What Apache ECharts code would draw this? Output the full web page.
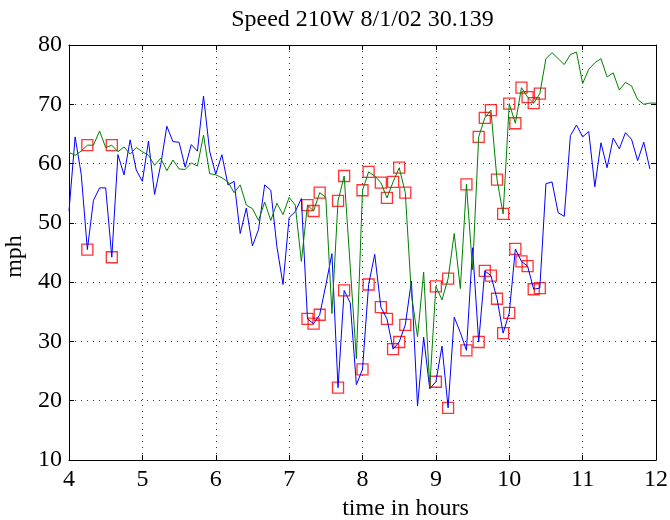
<!DOCTYPE html>
<html>
<head>
<meta charset="utf-8">
<script src="https://cdn.jsdelivr.net/npm/echarts@6/dist/echarts.min.js"></script>
<style>
html,body{margin:0;padding:0;background:#fff;}
#chart{width:670px;height:520px;}
</style>
</head>
<body>
<div id="chart"></div>
<script>
// Sampling: every 5 minutes from 4:00 to 12:00
const startHour = 4;
const stepMinutes = 5;

const xTicks = [4, 5, 6, 7, 8, 9, 10, 11, 12];
const yTicks = [10, 20, 30, 40, 50, 60, 70, 80];

// Blue series (mph)
const blueSpeed = [
  52.0, 64.5, 58.2, 45.5, 53.8, 55.9, 55.9, 44.2, 61.5, 58.1,
  64.0, 58.9, 57.0, 63.8, 54.8, 59.8, 66.3, 63.7, 63.6, 59.4,
  63.2, 62.1, 71.4, 62.1, 58.2, 61.5, 56.4, 57.0, 48.2, 52.5,
  46.1, 48.9, 56.4, 55.5, 46.0, 39.6, 50.9, 51.9, 54.1, 33.8,
  33.0, 34.5, 39.5, 44.8, 22.2, 38.6, 36.5, 22.7, 25.3, 39.6,
  44.7, 35.8, 33.8, 28.7, 29.9, 32.8, 40.2, 19.1, 30.7, 22.0,
  23.2, 29.2, 18.8, 34.1, 31.5, 28.5, 45.8, 29.9, 41.9, 41.1,
  37.2, 31.4, 34.8, 45.6, 43.5, 42.7, 38.8, 39.0, 56.6, 56.9,
  51.7, 51.1, 64.7, 66.5, 64.5, 65.4, 56.1, 63.5, 59.3, 64.3,
  62.5, 65.2, 64.1, 60.5, 63.6, 59.1
];

// Green series (mph)
const greenSpeed = [
  61.9, 61.4, 62.1, 63.1, 63.1, 65.5, 62.7, 63.1, 62.0, 62.8,
  61.6, 62.7, 62.0, 61.4, 59.7, 60.9, 58.8, 60.6, 59.1, 59.0,
  60.1, 59.6, 64.8, 58.3, 58.1, 57.6, 56.9, 55.1, 56.4, 53.0,
  52.4, 50.4, 53.5, 50.4, 53.3, 51.4, 54.3, 53.0, 43.5, 53.0,
  52.0, 55.1, 54.3, 34.7, 53.7, 57.9, 42.5, 27.1, 55.5, 58.6,
  57.9, 56.8, 54.2, 56.9, 59.3, 55.1, 37.9, 30.8, 41.7, 22.3,
  39.3, 37.0, 40.6, 48.2, 38.9, 56.5, 42.1, 64.5, 67.7, 69.0,
  57.3, 51.5, 70.1, 66.8, 72.8, 71.2, 70.2, 71.8, 77.7, 78.7,
  77.7, 76.7, 78.4, 78.8, 73.5, 75.9, 77.0, 77.7, 74.6, 75.3,
  72.4, 73.7, 73.1, 70.8, 70.0, 70.2, 70.2
];

// Sample indices flagged with red squares (both series)
const flaggedIdx = [3, 7, 39, 40, 41, 44, 45, 48, 49, 51, 52, 53, 54, 55,
  60, 62, 65, 67, 68, 69, 70, 71, 72, 73, 74, 75, 76, 77];

const titleText = 'Speed 210W 8/1/02 30.139';
const xName = 'time in hours';
const yName = 'mph';

const timeOf = i => startHour + i * stepMinutes / 60;
const bluePts = blueSpeed.map((v, i) => [timeOf(i), v]);
const greenPts = greenSpeed.map((v, i) => [timeOf(i), v]);
const flagPts = [];
flaggedIdx.forEach(i => {
  flagPts.push([timeOf(i), blueSpeed[i]]);
  flagPts.push([timeOf(i), greenSpeed[i]]);
});

const FONT = '"Liberation Serif", "Times New Roman", Times, serif';
const FS = 24;

const chart = echarts.init(document.getElementById('chart'), null, {renderer: 'canvas'});
const axisLine = {show: true, lineStyle: {color: '#000', width: 1}};
const tick = {show: true, inside: true, length: 5, lineStyle: {color: '#000', width: 1}};
const grid = {show: true, lineStyle: {color: '#333', width: 1, type: [1, 5]}};

chart.setOption({
  animation: false,
  backgroundColor: '#fff',
  grid: {left: 69, top: 45, width: 587, height: 415, containLabel: false, outerBoundsMode: 'none'},
  graphic: [{
    type: 'text', x: 362.5, y: 20, silent: true,
    style: {text: titleText, font: FS + 'px ' + FONT, fill: '#000', align: 'center', verticalAlign: 'middle'}
  }],
  xAxis: [{
    type: 'value', min: xTicks[0], max: xTicks[xTicks.length - 1], interval: 1, position: 'bottom',
    axisLine: axisLine, axisTick: tick, splitLine: grid,
    axisLabel: {color: '#000', fontFamily: FONT, fontSize: FS, margin: 8},
    name: xName, nameLocation: 'middle', nameGap: 34,
    nameTextStyle: {color: '#000', fontFamily: FONT, fontSize: FS, padding: [0, 0, 0, 86]}
  }, {
    type: 'value', min: xTicks[0], max: xTicks[xTicks.length - 1], interval: 1, position: 'top',
    axisLine: axisLine, axisTick: tick, splitLine: {show: false}, axisLabel: {show: false}
  }],
  yAxis: [{
    type: 'value', min: yTicks[0], max: yTicks[yTicks.length - 1], interval: 10, position: 'left',
    axisLine: axisLine, axisTick: tick, splitLine: grid,
    axisLabel: {color: '#000', fontFamily: FONT, fontSize: FS, margin: 7},
    name: yName, nameLocation: 'middle', nameGap: 34,
    nameTextStyle: {color: '#000', fontFamily: FONT, fontSize: FS, padding: [0, 8, 0, 0]}
  }, {
    type: 'value', min: yTicks[0], max: yTicks[yTicks.length - 1], interval: 10, position: 'right',
    axisLine: axisLine, axisTick: tick, splitLine: {show: false}, axisLabel: {show: false}
  }],
  series: [{
    type: 'line', data: bluePts, symbol: 'none', silent: true,
    lineStyle: {color: '#0000ff', width: 1}
  }, {
    type: 'line', data: greenPts, symbol: 'none', silent: true,
    lineStyle: {color: '#008000', width: 1}
  }, {
    type: 'scatter', data: flagPts, symbol: 'rect', symbolSize: 11, silent: true,
    itemStyle: {color: 'rgba(0,0,0,0)', borderColor: '#ff0000', borderWidth: 1.3}
  }]
});
</script>
</body>
</html>
